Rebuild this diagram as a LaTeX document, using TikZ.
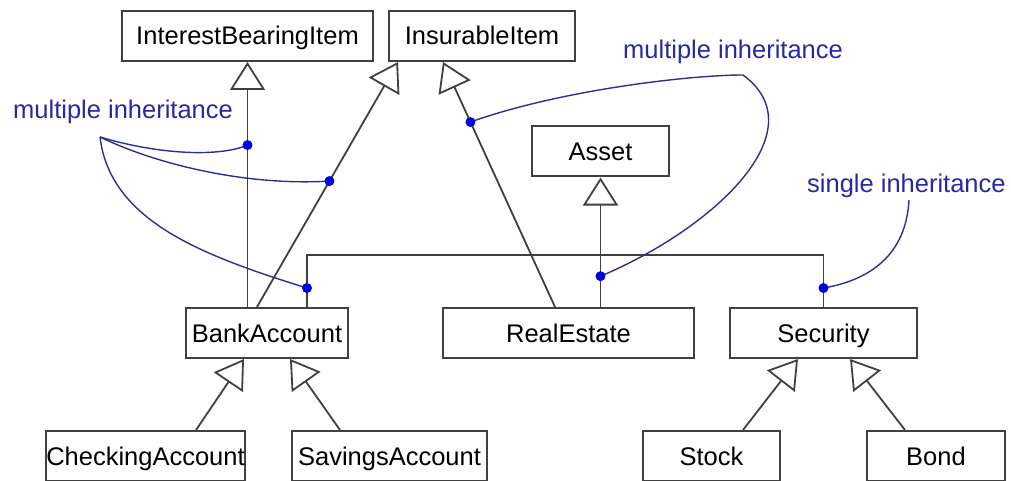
\documentclass[tikz,border=0pt]{standalone}
\usepackage{fontspec}
\setmainfont{Liberation Sans}
\usetikzlibrary{arrows.meta}
\definecolor{notetext}{RGB}{40,40,165}
\definecolor{noteline}{RGB}{45,45,150}
\definecolor{notedot}{RGB}{0,0,225}
\tikzset{
  umlclass/.style = {draw = black!75, line width = 2pt, fill = white, inner sep = 0pt,
                     minimum height = 50pt, text height = 18pt, text depth = 0pt,
                     font = \fontsize{25.5}{30}\selectfont},
  inh/.style      = {draw = black!75, line width = 1.8pt,
                     -{Triangle[open, length = 28pt, width = 35pt]}},
  assoc/.style    = {draw = black!75, line width = 1.8pt},
  note/.style     = {text = notetext, inner sep = 0pt, anchor = base west,
                     font = \fontsize{25.5}{30}\selectfont},
  noteedge/.style = {draw = noteline, line width = 1.4pt}
}
\begin{document}
\begin{tikzpicture}[x=1pt, y=-1pt]
\useasboundingbox (0,0) rectangle (1011,481);

\node[umlclass, minimum width = 251pt] (ibi)   at (247.5,36)  {InterestBearingItem};
\node[umlclass, minimum width = 186pt] (ins)   at (482,36)    {InsurableItem};
\node[umlclass, minimum width = 137pt] (asset) at (600.5,151.5) {Asset};
\node[umlclass, minimum width = 162pt] (bank)  at (267,333)   {BankAccount};
\node[umlclass, minimum width = 251pt] (real)  at (568.5,333) {RealEstate};
\node[umlclass, minimum width = 187pt] (sec)   at (823.5,333) {Security};
\node[umlclass, minimum width = 195pt] (chk)   at (145.5,456) {CheckingAccount};
\node[umlclass, minimum width = 195pt] (sav)   at (389.5,456) {SavingsAccount};
\node[umlclass, minimum width = 137pt] (stock) at (711.5,456) {Stock};
\node[umlclass, minimum width = 138pt] (bond)  at (936,456)   {Bond};

\coordinate (busL) at (307,255);
\coordinate (busR) at (sec.north |- busL);

\draw[inh] (bank.north -| ibi.south) -- coordinate[pos=.661] (d1) (ibi.south);
\draw[inh] ([xshift=-10pt]bank.north) -- coordinate[pos=.514] (d2) ([xshift=-84pt]ins.south);
\draw[inh] ([xshift=-13.5pt]real.north) -- coordinate[pos=.755] (d4) ([xshift=-39pt]ins.south);
\draw[inh] (real.north -| asset.south) -- coordinate[pos=.238] (d5) (asset.south);
\draw[assoc] (bank.north -| busL) -- coordinate[pos=.365] (d3) (busL) -- (busR)
             -- coordinate[pos=.635] (d6) (sec.north);

\draw[inh] ([xshift=50.5pt]chk.north)   -- ([xshift=-23pt]bank.south);
\draw[inh] ([xshift=-49.5pt]sav.north)  -- ([xshift=23pt]bank.south);
\draw[inh] ([xshift=31.5pt]stock.north) -- ([xshift=-25.5pt]sec.south);
\draw[inh] ([xshift=-31pt]bond.north)   -- ([xshift=26.5pt]sec.south);

\node[note] (multiL) at (13,119)  {multiple inheritance};
\node[note] (multiR) at (623,59)  {multiple inheritance};
\node[note] (single) at (807,193) {single inheritance};

\coordinate (forkL)  at (100,137);
\coordinate (loopR)  at (743,75);
\coordinate (hookS)  at (909,200);

\draw[noteedge] (forkL) .. controls (160,155) and (220,157) .. (d1);
\draw[noteedge] (forkL) .. controls (160,166) and (250,186) .. (d2);
\draw[noteedge] (forkL) .. controls (110,220) and (200,255) .. (d3);
\draw[noteedge] (d4) .. controls (560,90) and (690,75) .. (loopR)
                     .. controls (818,130) and (715,228) .. (d5);
\draw[noteedge] (hookS) .. controls (906,255) and (870,280) .. (d6);

\foreach \d in {d1,d2,d3,d4,d5,d6}
  \fill[notedot] (\d) circle (5pt);

\end{tikzpicture}
\end{document}
